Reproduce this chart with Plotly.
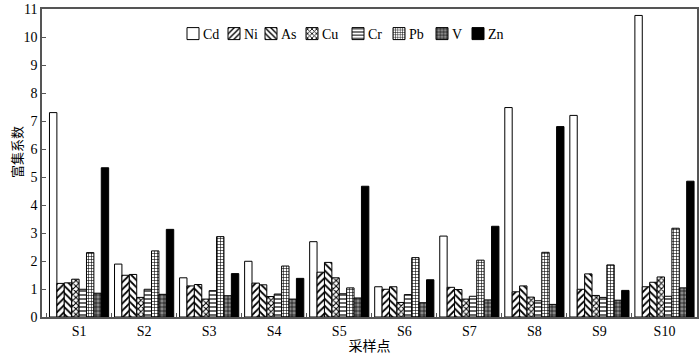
import plotly.graph_objects as go

sites = ["S1", "S2", "S3", "S4", "S5", "S6", "S7", "S8", "S9", "S10"]
Cd = [7.30, 1.89, 1.40, 1.99, 2.69, 1.08, 2.89, 7.48, 7.20, 10.77]
Ni = [1.20, 1.49, 1.11, 1.21, 1.60, 0.99, 1.06, 0.90, 0.99, 1.08]
As = [1.22, 1.52, 1.16, 1.15, 1.95, 1.08, 0.98, 1.11, 1.54, 1.24]
Cu = [1.35, 0.70, 0.64, 0.73, 1.40, 0.52, 0.64, 0.71, 0.77, 1.43]
Cr = [0.99, 0.99, 0.94, 0.82, 0.83, 0.80, 0.74, 0.58, 0.70, 0.74]
Pb = [2.30, 2.36, 2.87, 1.82, 1.04, 2.12, 2.03, 2.31, 1.86, 3.17]
V = [0.85, 0.81, 0.76, 0.64, 0.68, 0.51, 0.61, 0.45, 0.60, 1.04]
Zn = [5.33, 3.13, 1.55, 1.38, 4.67, 1.33, 3.24, 6.80, 0.95, 4.85]

series = [
    ("Cd", Cd, dict(shape="", bgcolor="white")),
    ("Ni", Ni, dict(shape="/", bgcolor="white", fgcolor="black", size=5, solidity=0.35)),
    ("As", As, dict(shape="\\", bgcolor="white", fgcolor="black", size=5, solidity=0.35)),
    ("Cu", Cu, dict(shape="x", bgcolor="white", fgcolor="black", size=4, solidity=0.45)),
    ("Cr", Cr, dict(shape="-", bgcolor="white", fgcolor="black", size=4, solidity=0.3)),
    ("Pb", Pb, dict(shape="+", bgcolor="white", fgcolor="black", size=3, solidity=0.35)),
    ("V", V, dict(shape="+", bgcolor="#8a8a8a", fgcolor="black", size=4, solidity=0.3)),
    ("Zn", Zn, dict(shape="", bgcolor="black")),
]

# legend symbol centres (pixels from the left of the figure)
legend_px = [193, 234, 271, 312, 358, 399, 442, 478]
legend_y_px = 34

L, R, T, B = 42, 3, 9, 38
W, H = 700, 355
pw = W - L - R
ph = H - T - B

font_family = "Liberation Serif, Times New Roman, Noto Sans CJK SC, serif"

fig = go.Figure()
layout_legends = {}
annotations = []
for i, (name, vals, pat) in enumerate(series):
    color = pat.get("bgcolor", "white")
    if pat["shape"] == "":
        marker = dict(color=color, line=dict(color="black", width=1))
    else:
        marker = dict(color=color, pattern=dict(shape=pat["shape"], fgcolor=pat["fgcolor"],
                                                bgcolor=pat["bgcolor"], size=pat["size"],
                                                solidity=pat["solidity"], fillmode="replace"),
                      line=dict(color="black", width=1))
    lg = "legend" if i == 0 else f"legend{i + 1}"
    fig.add_trace(go.Bar(name="", x=sites, y=vals, marker=marker, legend=lg,
                         hovertemplate=name + ": %{y}<extra></extra>"))
    layout_legends[lg] = dict(
        x=(legend_px[i] - 20 - L) / pw, xanchor="left",
        y=1 - (legend_y_px - T) / ph, yanchor="middle",
        orientation="h", itemwidth=30, bgcolor="rgba(0,0,0,0)",
        font=dict(size=14), borderwidth=0,
    )
    annotations.append(dict(text=name, xref="paper", yref="paper",
                            x=(legend_px[i] + 8 - L) / pw, y=1 - (legend_y_px - T) / ph,
                            xanchor="left", yanchor="middle", showarrow=False,
                            font=dict(size=14)))

annotations.append(dict(text="富集系数", textangle=-90, xref="paper", yref="paper",
                        x=(17 - L) / pw, y=1 - (152 - T) / ph, xanchor="center",
                        yanchor="middle", showarrow=False, font=dict(size=13)))

fig.update_layout(
    width=W, height=H,
    margin=dict(l=L, r=R, t=T, b=B),
    barmode="group", bargap=0.09, bargroupgap=0,
    plot_bgcolor="white", paper_bgcolor="white",
    font=dict(family=font_family, size=14, color="black"),
    showlegend=True,
    xaxis=dict(title=dict(text="采样点", font=dict(size=14), standoff=4),
               range=[-0.57, 9.5], showline=True, linecolor="#555", linewidth=1.5,
               mirror=True, ticks="inside", tickson="boundaries", ticklen=4,
               tickcolor="#555", showgrid=False, zeroline=False, automargin=False),
    yaxis=dict(range=[0, 11], dtick=1, showline=True, linecolor="#555", linewidth=1.5,
               mirror=True, ticks="inside", ticklen=4, tickcolor="#555",
               showgrid=False, zeroline=False, automargin=False),
    annotations=annotations,
    **layout_legends,
)

fig.write_html("out.html", config={"displayModeBar": False},
               post_script="document.body.style.margin='0';")
